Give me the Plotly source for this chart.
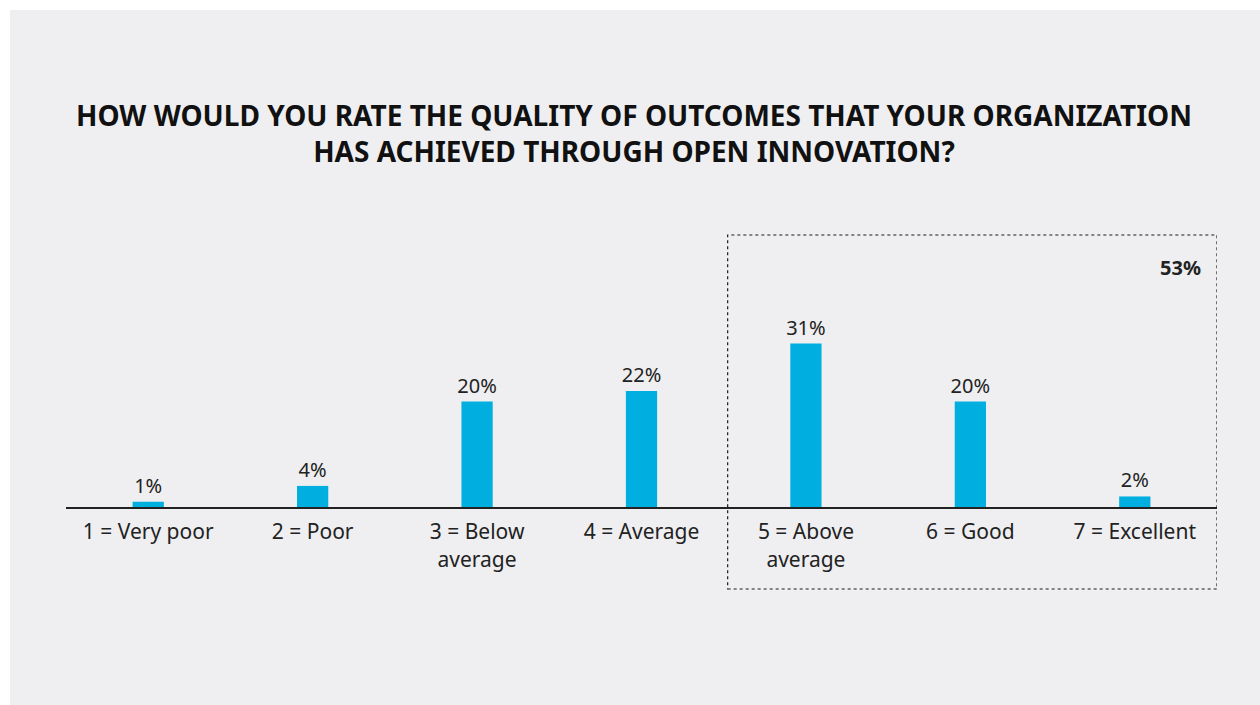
import plotly.graph_objects as go

categories = ["1 = Very poor", "2 = Poor", "3 = Below<br>average", "4 = Average",
              "5 = Above<br>average", "6 = Good", "7 = Excellent"]
values = [1, 4, 20, 22, 31, 20, 2]
value_labels = ["1%", "4%", "20%", "22%", "31%", "20%", "2%"]
highlight_total = "53%"
title_text = ("<b>HOW WOULD YOU RATE THE QUALITY OF OUTCOMES THAT YOUR ORGANIZATION<br>"
              "HAS ACHIEVED THROUGH OPEN INNOVATION?</b>")

FONT = "Noto Sans"
TXT = "#222222"

fig = go.Figure()
fig.add_trace(go.Bar(
    x=categories, y=values, text=value_labels, textposition="outside",
    textfont=dict(family=FONT, size=20, color=TXT),
    marker=dict(color="#00aedf", line=dict(width=0)),
    width=0.19, cliponaxis=False, hoverinfo="skip",
))

fig.update_layout(
    width=1260, height=705,
    margin=dict(l=66, r=43, t=235, b=198),
    paper_bgcolor="white", plot_bgcolor="rgba(0,0,0,0)",
    showlegend=False,
    uniformtext=dict(minsize=20, mode="show"),
    font=dict(family=FONT, color=TXT),
    xaxis=dict(showline=True, linecolor="#222222", linewidth=2, ticks="outside",
               ticklen=5, tickcolor="rgba(0,0,0,0)",
               showgrid=False, zeroline=False, range=[-0.5, 6.5],
               tickfont=dict(family=FONT, size=21, color=TXT)),
    yaxis=dict(visible=False, range=[0, 51.6], showgrid=False, zeroline=False),
)

# grey panel background
fig.add_shape(type="rect", xref="paper", yref="paper",
              x0=(10 - 66) / 1151, x1=(1262 - 66) / 1151,
              y0=(507 - 707) / 272, y1=(507 - 10) / 272,
              fillcolor="#efeff1", line=dict(width=0), layer="below")

# dotted highlight box
fig.add_shape(type="rect", xref="x", yref="paper",
              x0=3.524, x1=6.5, y0=(507 - 589) / 272, y1=1,
              line=dict(color="#1a1a1a", width=1.2, dash="dot"),
              fillcolor="rgba(0,0,0,0)")

fig.add_annotation(xref="x", yref="paper", x=6.28, y=(507 - 267) / 272,
                   yanchor="middle", xanchor="center",
                   text="<b>" + highlight_total + "</b>", showarrow=False,
                   font=dict(family=FONT, size=20, color=TXT))

fig.add_annotation(xref="paper", yref="paper", x=(634 - 66) / 1151,
                   y=(507 - 133) / 272, yanchor="middle", xanchor="center",
                   text=title_text, showarrow=False,
                   font=dict(family=FONT, size=28, color="#111111"), align="center")

fig.write_html("out.html", config={"displayModeBar": False},
               post_script="document.body.style.margin='0px';")
